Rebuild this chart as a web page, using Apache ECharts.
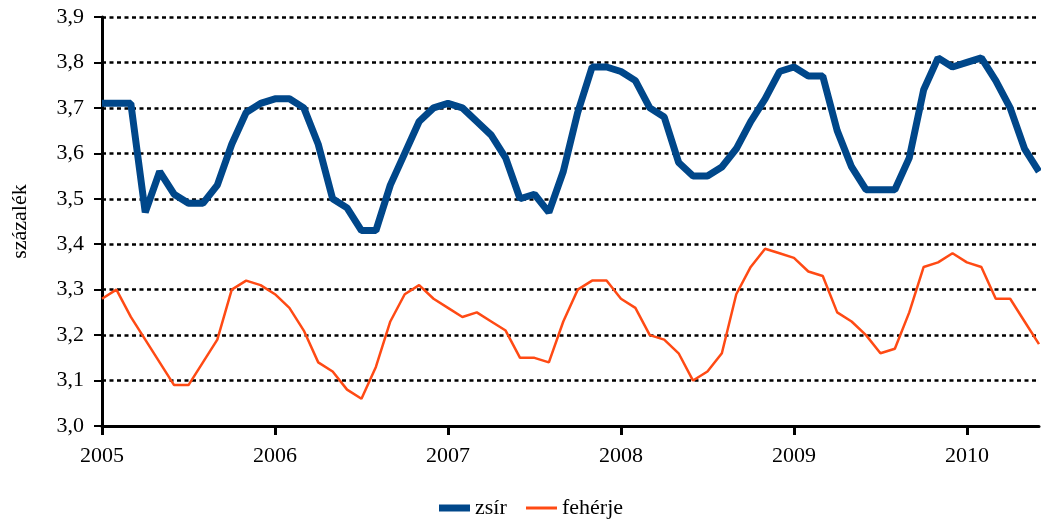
<!DOCTYPE html>
<html>
<head>
<meta charset="utf-8">
<script src="https://cdn.jsdelivr.net/npm/echarts@6/dist/echarts.min.js"></script>
<style>html,body{margin:0;padding:0;background:#fff}#c{width:1041px;height:522px}</style>
</head>
<body>
<div id="c"></div>
<script>
// Monthly data, Jan 2005 – Jun 2010
const months = [];
for (let y = 2005; y <= 2010; y++) {
  for (let m = 1; m <= 12; m++) {
    if (y === 2010 && m > 6) break;
    months.push(y + '-' + String(m).padStart(2, '0'));
  }
}
const seriesNames = ['zsír', 'fehérje'];
const zsir = [
  3.71,3.71,3.71,3.47,3.56,3.51,3.49,3.49,3.53,3.62,3.69,3.71,
  3.72,3.72,3.70,3.62,3.50,3.48,3.43,3.43,3.53,3.60,3.67,3.70,
  3.71,3.70,3.67,3.64,3.59,3.50,3.51,3.47,3.56,3.69,3.79,3.79,
  3.78,3.76,3.70,3.68,3.58,3.55,3.55,3.57,3.61,3.67,3.72,3.78,
  3.79,3.77,3.77,3.65,3.57,3.52,3.52,3.52,3.59,3.74,3.81,3.79,
  3.80,3.81,3.76,3.70,3.61,3.56
];
const feherje = [
  3.28,3.30,3.24,3.19,3.14,3.09,3.09,3.14,3.19,3.30,3.32,3.31,
  3.29,3.26,3.21,3.14,3.12,3.08,3.06,3.13,3.23,3.29,3.31,3.28,
  3.26,3.24,3.25,3.23,3.21,3.15,3.15,3.14,3.23,3.30,3.32,3.32,
  3.28,3.26,3.20,3.19,3.16,3.10,3.12,3.16,3.29,3.35,3.39,3.38,
  3.37,3.34,3.33,3.25,3.23,3.20,3.16,3.17,3.25,3.35,3.36,3.38,
  3.36,3.35,3.28,3.28,3.23,3.18
];
const yMin = 3.0, yMax = 3.9, yStep = 0.1;
const yName = 'százalék';

const FONT = 'Liberation Serif';
const BLUE = '#00478A', ORANGE = '#FF4A14';
const chart = echarts.init(document.getElementById('c'), null, {renderer: 'canvas'});
const legendText = {fontFamily: FONT, fontSize: 22, color: '#000', padding: [0, 0, 0, 0]};
chart.setOption({
  animation: false,
  backgroundColor: '#fff',
  textStyle: {fontFamily: FONT},
  grid: {left: 102, right: 2, top: 17, bottom: 96, containLabel: false, outerBoundsMode: 'none'},
  legend: [
    {left: 434, top: 492, itemWidth: 31, itemHeight: 7, icon: 'rect',
      textStyle: legendText, data: [seriesNames[0]]},
    {left: 521, top: 492, itemWidth: 31, itemHeight: 3, icon: 'rect',
      textStyle: legendText, data: [seriesNames[1]]}
  ],
  xAxis: {
    type: 'category',
    data: months,
    boundaryGap: false,
    axisLine: {lineStyle: {color: '#000', width: 3}},
    axisTick: {show: true, interval: 11, length: 9, inside: false, lineStyle: {color: '#000', width: 3}},
    axisLabel: {interval: 11, margin: 19, fontSize: 22, color: '#000', fontFamily: FONT,
      formatter: v => v.slice(0, 4)},
    splitLine: {show: false}
  },
  yAxis: {
    type: 'value',
    min: yMin, max: yMax, interval: yStep,
    name: yName, nameLocation: 'middle', nameGap: 71, nameRotate: 90,
    nameTextStyle: {fontFamily: FONT, fontSize: 22, color: '#000'},
    axisLine: {show: true, lineStyle: {color: '#000', width: 3}},
    axisTick: {show: true, length: 8, lineStyle: {color: '#000', width: 2}},
    axisLabel: {margin: 18, fontSize: 22, color: '#000', fontFamily: FONT,
      formatter: v => v.toFixed(1).replace('.', ',')},
    splitLine: {show: true, lineStyle: {color: '#000', width: 2.5, type: [4, 3.5]}}
  },
  series: [
    {name: seriesNames[0], type: 'line', data: zsir, symbol: 'none',
      lineStyle: {color: BLUE, width: 7}, itemStyle: {color: BLUE}, z: 3},
    {name: seriesNames[1], type: 'line', data: feherje, symbol: 'none',
      lineStyle: {color: ORANGE, width: 2.5}, itemStyle: {color: ORANGE}, z: 3}
  ]
});
</script>
</body>
</html>
